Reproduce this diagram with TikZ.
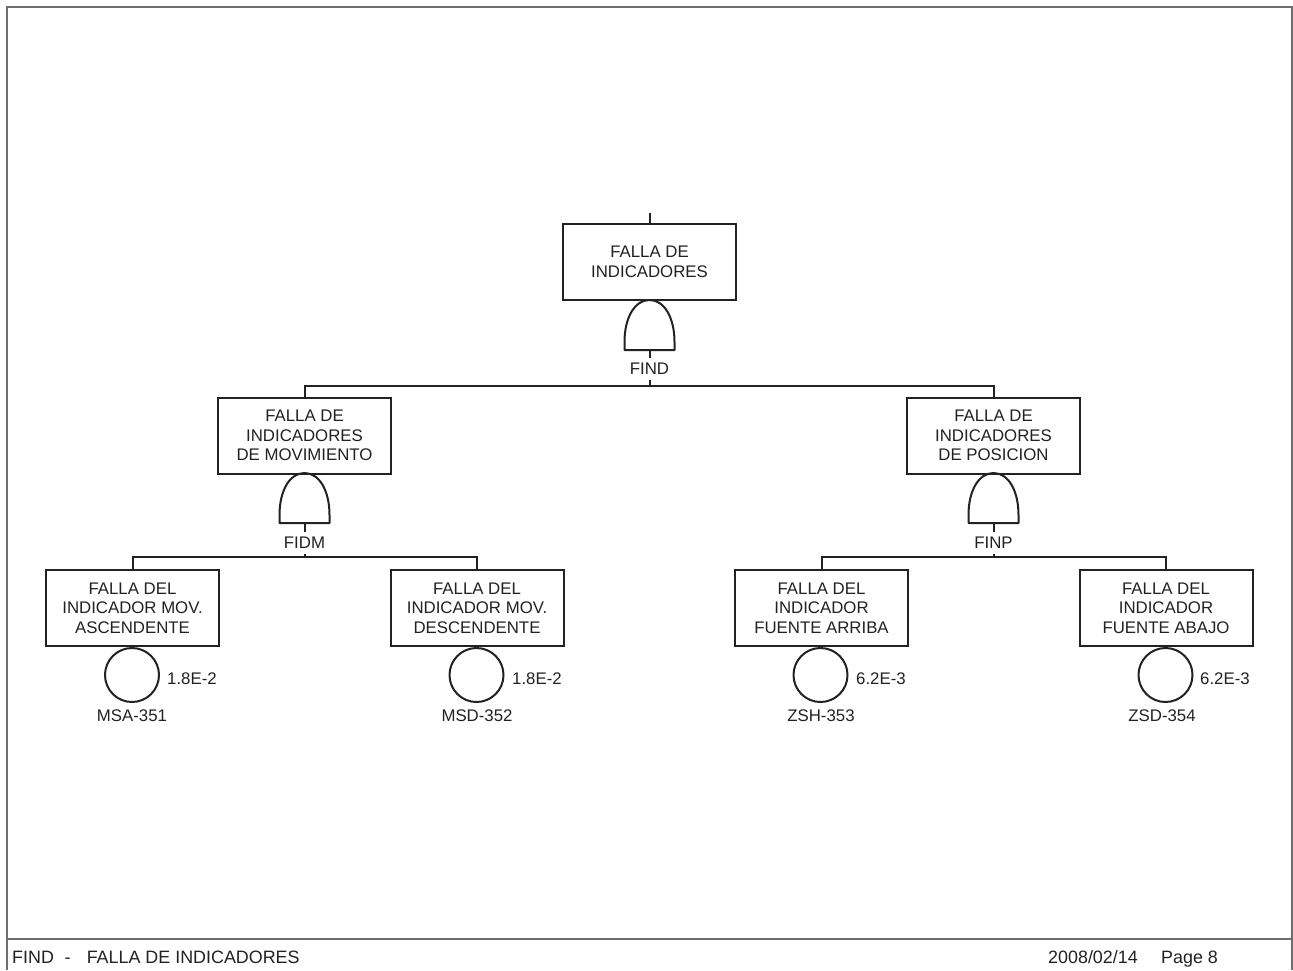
\documentclass[tikz,border=0pt]{standalone}
\usepackage{fontspec}
\setmainfont{Liberation Sans}
\definecolor{ink}{HTML}{222222}
\definecolor{framec}{HTML}{6E6E6E}
\begin{document}
\begin{tikzpicture}[x=1pt,y=-1pt,
  every node/.style={text=ink, font=\fontsize{16.8}{19.5}\selectfont},
  evbox/.style={draw=ink, line width=2pt, minimum width=173pt, minimum height=76pt, align=center, inner sep=0pt, fill=white},
  basic/.style={draw=ink, line width=2pt, circle, minimum size=54pt, inner sep=0pt},
  conn/.style={draw=ink, line width=2pt},
  gatelab/.style={inner sep=0pt, minimum height=22pt},
  andgate/.style={draw=ink, line width=2pt, line join=round},
  framel/.style={draw=framec, line width=1.8pt},
  foot/.style={font=\fontsize{17.9}{20}\selectfont, inner sep=0pt, anchor=base west}
]
\useasboundingbox (0,0) rectangle (1293,970);
\fill[white] (0,0) rectangle (1293,970);
% frame
\draw[framel] (7,970) -- (7,7) -- (1292,7) -- (1292,970);
\draw[framel] (7,939) -- (1292,939);
\node[foot] (foot1) at (12,963) {FIND\hspace{0.6em}-\hspace{0.9em}FALLA DE INDICADORES};
\node[foot] (foot2) at (1048,963) {2008/02/14};
\node[foot] (foot3) at (1161,963) {Page 8};

% macro for AND gate drawn under a box
\newcommand{\andgateat}[3]{% name, x, ytop
  \draw[andgate] (#2-25,#3+50) -- (#2-25,#3+42)
     .. controls (#2-25,#3+18) and (#2-15,#3) .. (#2,#3)
     .. controls (#2+15,#3) and (#2+25,#3+18) .. (#2+25,#3+42)
     -- (#2+25,#3+50) -- cycle;
  \coordinate (#1top) at (#2,#3);
  \coordinate (#1bot) at (#2,#3+50);
}

% top event
\coordinate (stub) at (649.5,213);
\node[evbox] (FIND) at (649.5,262) {FALLA DE\\INDICADORES};
\draw[conn] (stub) -- (FIND.north);
\andgateat{gA}{649.5}{300}
\draw[conn] (FIND.south) -- (gAtop);
\node[gatelab] (labA) at (649.5,369) {FIND};
\draw[conn] (gAbot) -- (labA.north);

% second level
\node[evbox] (FIDM) at (304.5,435.5) {FALLA DE\\INDICADORES\\DE MOVIMIENTO};
\node[evbox] (FINP) at (993.5,435.5) {FALLA DE\\INDICADORES\\DE POSICION};
\coordinate (busA) at (649.5,386);
\draw[conn] (labA.south) -- (busA);
\draw[conn] (FIDM.north) |- (busA) -| (FINP.north);

\andgateat{gB}{304.5}{473}
\draw[conn] (FIDM.south) -- (gBtop);
\node[gatelab] (labB) at (304.5,543) {FIDM};
\draw[conn] (gBbot) -- (labB.north);
\coordinate (busB) at (304.5,557);
\draw[conn] (labB.south) -- (busB);

\andgateat{gC}{993.5}{473}
\draw[conn] (FINP.south) -- (gCtop);
\node[gatelab] (labC) at (993.5,543) {FINP};
\draw[conn] (gCbot) -- (labC.north);
\coordinate (busC) at (993.5,557);
\draw[conn] (labC.south) -- (busC);

% third level
\node[evbox] (MSA) at (132.5,608) {FALLA DEL\\INDICADOR MOV.\\ASCENDENTE};
\node[evbox] (MSD) at (477,608) {FALLA DEL\\INDICADOR MOV.\\DESCENDENTE};
\node[evbox] (ZSH) at (821.5,608) {FALLA DEL\\INDICADOR\\FUENTE ARRIBA};
\node[evbox] (ZSD) at (1166,608) {FALLA DEL\\INDICADOR\\FUENTE ABAJO};
\draw[conn] (MSA.north) |- (busB) -| (MSD.north);
\draw[conn] (ZSH.north) |- (busC) -| (ZSD.north);

% basic events
\node[basic] (cMSA) at (132,675) {};
\node[basic] (cMSD) at (476.5,675) {};
\node[basic] (cZSH) at (820.5,675) {};
\node[basic] (cZSD) at (1165.5,675) {};
\draw[conn] (MSA.south) -- (cMSA.north);
\draw[conn] (MSD.south) -- (cMSD.north);
\draw[conn] (ZSH.south) -- (cZSH.north);
\draw[conn] (ZSD.south) -- (cZSD.north);

\node[anchor=west, inner sep=0pt] (pMSA) at (167,679) {1.8E-2};
\node[anchor=west, inner sep=0pt] (pMSD) at (512,679) {1.8E-2};
\node[anchor=west, inner sep=0pt] (pZSH) at (856,679) {6.2E-3};
\node[anchor=west, inner sep=0pt] (pZSD) at (1200,679) {6.2E-3};

\node (nMSA) at (132,716) {MSA-351};
\node (nMSD) at (477,716) {MSD-352};
\node (nZSH) at (821,716) {ZSH-353};
\node (nZSD) at (1162,716) {ZSD-354};
\end{tikzpicture}
\end{document}
